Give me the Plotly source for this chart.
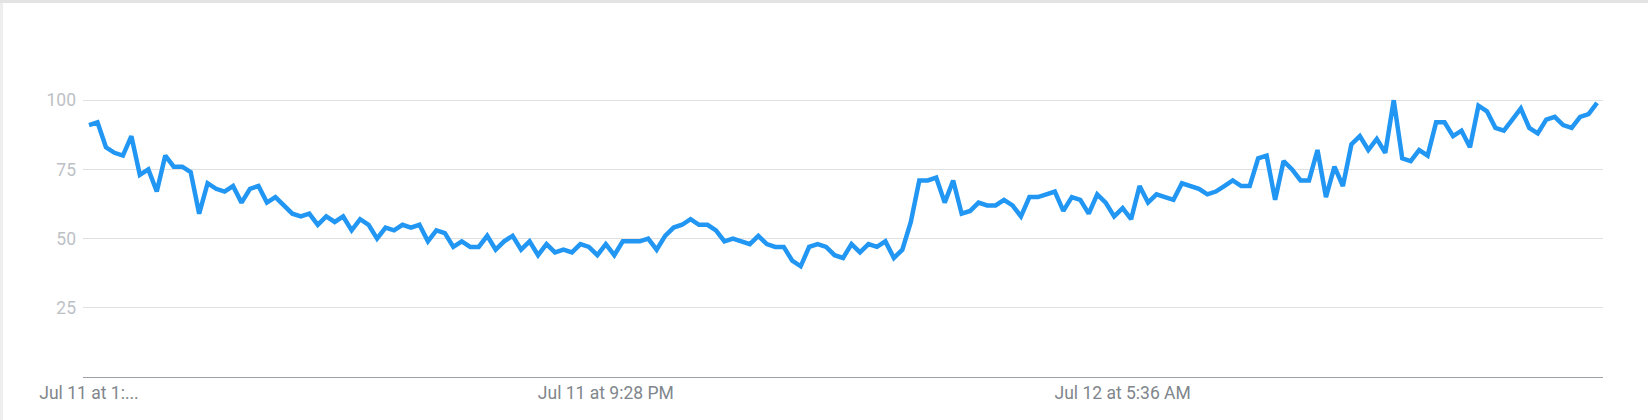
import pandas as pd
import plotly.graph_objects as go

# interesse nel tempo (scala 0-100), un punto ogni 8 minuti
values = [91, 92, 83, 81, 80, 87, 73, 75, 67, 80,
          76, 76, 74, 59, 70, 68, 67, 69, 63, 68,
          69, 63, 65, 62, 59, 58, 59, 55, 58, 56,
          58, 53, 57, 55, 50, 54, 53, 55, 54, 55,
          49, 53, 52, 47, 49, 47, 47, 51, 46, 49,
          51, 46, 49, 44, 48, 45, 46, 45, 48, 47,
          44, 48, 44, 49, 49, 49, 50, 46, 51, 54,
          55, 57, 55, 55, 53, 49, 50, 49, 48, 51,
          48, 47, 47, 42, 40, 47, 48, 47, 44, 43,
          48, 45, 48, 47, 49, 43, 46, 56, 71, 71,
          72, 63, 71, 59, 60, 63, 62, 62, 64, 62,
          58, 65, 65, 66, 67, 60, 65, 64, 59, 66,
          63, 58, 61, 57, 69, 63, 66, 65, 64, 70,
          69, 68, 66, 67, 69, 71, 69, 69, 79, 80,
          64, 78, 75, 71, 71, 82, 65, 76, 69, 84,
          87, 82, 86, 81, 100, 79, 78, 82, 80, 92,
          92, 87, 89, 83, 98, 96, 90, 89, 93, 97,
          90, 88, 93, 94, 91, 90, 94, 95, 99]

times = pd.date_range("2023-07-11 13:20", periods=len(values), freq="8min")

tick_times = [times[0], times[61], times[122]]
tick_labels = ["Jul 11 at 1:...", "Jul 11 at 9:28 PM", "Jul 12 at 5:36 AM"]
y_ticks = [25, 50, 75, 100]

fig = go.Figure()
fig.add_trace(go.Scatter(x=times, y=values, mode="lines",
                         line=dict(color="#2196f3", width=4.5),
                         hoverinfo="x+y"))

step = pd.Timedelta(minutes=8)
fig.update_xaxes(type="date",
                 range=[times[0] - 0.71 * step, times[-1] + 0.7 * step],
                 tickvals=tick_times, ticktext=tick_labels,
                 showgrid=False, zeroline=False,
                 showline=True, linecolor="#9aa0a6", linewidth=1,
                 ticks="", tickfont=dict(family="Roboto", size=17.5, color="#80868b"))
fig.update_yaxes(range=[0, 125], tickvals=y_ticks,
                 showgrid=True, gridcolor="#e0e0e0", gridwidth=1,
                 zeroline=False, showline=False,
                 ticks="", ticklabelstandoff=6,
                 tickfont=dict(family="Roboto", size=17.5, color="#bdc1c6"))

# bordo della card (sinistra e in alto)
pw, ph = 1520, 346
fig.add_shape(type="rect", xref="paper", yref="paper",
              x0=-83 / pw, x1=-80 / pw, y0=-43 / ph, y1=377 / ph,
              line_width=0, fillcolor="#eeeeee", layer="below")
fig.add_shape(type="rect", xref="paper", yref="paper",
              x0=-83 / pw, x1=1565 / pw, y0=374 / ph, y1=377 / ph,
              line_width=0, fillcolor="#e3e3e3", layer="below")

fig.update_layout(width=1648, height=420,
                  margin=dict(l=83, r=45, t=31, b=43),
                  paper_bgcolor="white", plot_bgcolor="white",
                  showlegend=False,
                  font=dict(family="Roboto"))

# niente margine del body, il grafico parte da 0,0
fig.write_html("out.html", config={"displayModeBar": False},
               post_script="document.body.style.margin='0';")
